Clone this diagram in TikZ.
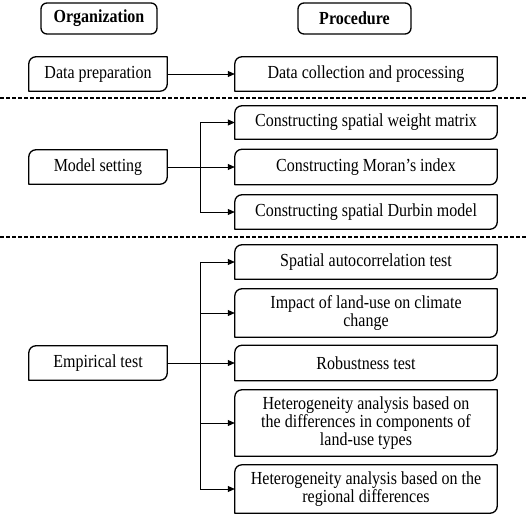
\documentclass[tikz,border=0pt]{standalone}
\usepackage{fontspec}
\setmainfont{Liberation Serif}[FakeStretch=0.87]
\usetikzlibrary{arrows.meta}

\begin{document}
\begin{tikzpicture}
  [x=1pt,y=1pt,
   every node/.style={font=\fontsize{18.4}{16}\selectfont,align=center,inner sep=0pt},
   head/.style={draw,line width=1.3pt,rounded corners=6pt,minimum height=31pt,font=\fontsize{18.4}{16}\selectfont\bfseries},
   org/.style={minimum width=138pt,minimum height=34pt},
   proc/.style={minimum width=262pt},
   box/.style={line width=1.3pt,line join=round},
   arr/.style={line width=0.8pt,-{Triangle[length=7pt,width=6pt]}},
   sep/.style={line width=1.2pt,dash pattern=on 4pt off 2pt}]
  \useasboundingbox (0,0) rectangle (526,516);

  \node[head,minimum width=116pt] (org)  at (99,497.5)  {Organization};
  \node[head,minimum width=113pt] (proc) at (354.5,497.5) {Procedure};

  \node[org] (prep)    at (98,442) {Data preparation};
  \node[org] (setting) at (98,349) {Model setting};
  \node[org] (emp)     at (98,153) {Empirical test};

  \node[proc,minimum height=34pt] (coll)   at (366,442)   {Data collection and processing};
  \node[proc,minimum height=33pt] (wmat)   at (366,393.5) {Constructing spatial weight matrix};
  \node[proc,minimum height=35pt] (moran)  at (366,349)   {Constructing Moran’s index};
  \node[proc,minimum height=34pt] (durbin) at (366,304)   {Constructing spatial Durbin model};
  \node[proc,minimum height=34pt] (auto)   at (366,254)   {Spatial autocorrelation test};
  \node[proc,minimum height=48pt] (impact) at (366,203)   {Impact of land-use on climate\\change};
  \node[proc,minimum height=35pt] (robust) at (366,153)   {Robustness test};
  \node[proc,minimum height=66pt] (het1)   at (366,93)    {Heterogeneity analysis based on\\the differences in components of\\land-use types};
  \node[proc,minimum height=48pt] (het2)   at (366,27)    {Heterogeneity analysis based on the\\regional differences};

  % box outlines, two corners rounded
  \foreach \n in {prep,setting,emp,coll,wmat,moran,durbin,auto,impact,robust,het1,het2}
    \draw[box] (\n.south west) -- ([yshift=-7pt]\n.north west)
      arc[start angle=180,end angle=90,radius=7pt] -- (\n.north east)
      -- ([yshift=7pt]\n.south east)
      arc[start angle=0,end angle=-90,radius=7pt] -- cycle;

  % separators
  \coordinate (s1l) at (0,418);   \coordinate (s1r) at (526,418);
  \coordinate (s2l) at (0,279);   \coordinate (s2r) at (526,279);
  \draw[sep] (s1l) -- (s1r);
  \draw[sep] (s2l) -- (s2r);

  % trunks
  \coordinate (mtop) at (200,393.5);
  \coordinate (mbot) at (200,304);
  \coordinate (etop) at (200,254);
  \coordinate (ebot) at (200,27);
  \draw[line width=0.8pt] (mtop) -- (mbot);
  \draw[line width=0.8pt] (etop) -- (ebot);

  \draw[arr] (prep) -- (coll);
  \draw[arr] (setting) -- (moran);
  \draw[arr] (emp) -- (robust);

  \foreach \from/\to in {mtop/wmat, mbot/durbin, etop/auto, etop/impact, etop/het1, ebot/het2}
    \draw[arr] (\from |- \to) -- (\to);

\end{tikzpicture}
\end{document}
